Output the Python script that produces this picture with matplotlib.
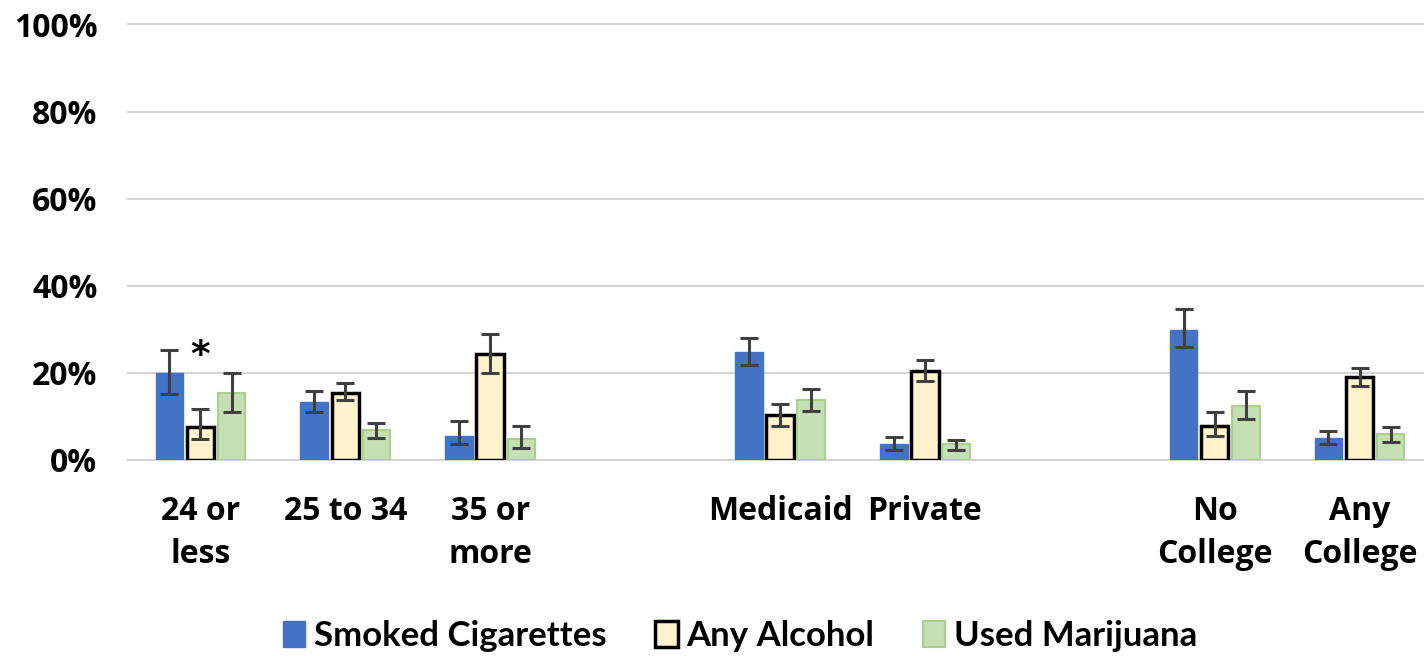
import numpy as np
import matplotlib
matplotlib.use("Agg")
import matplotlib.pyplot as plt
from matplotlib.patches import Patch

# categories (empty slots separate the three groups)
labels = ["24 or\nless", "25 to 34", "35 or\nmore", "", "Medicaid", "Private", "", "No\nCollege", "Any\nCollege"]
slots = [0, 1, 2, 4, 5, 7, 8]

cig = [19.9, 13.3, 5.4, 24.8, 3.7, 29.9, 5.1]
cig_lo = [15.2, 11.1, 3.7, 21.7, 2.4, 25.9, 3.7]
cig_hi = [25.2, 15.8, 8.9, 28.1, 5.2, 34.6, 6.6]

alc = [7.5, 15.4, 24.4, 10.4, 20.4, 7.9, 19.0]
alc_lo = [4.9, 13.7, 20.0, 7.9, 18.1, 5.6, 17.1]
alc_hi = [11.6, 17.7, 29.0, 12.9, 23.0, 11.1, 21.1]

mar = [15.4, 6.8, 4.9, 13.7, 3.6, 12.3, 5.9]
mar_lo = [11.1, 5.1, 2.8, 11.2, 2.3, 9.3, 4.1]
mar_hi = [20.0, 8.5, 7.9, 16.2, 4.7, 15.8, 7.5]

series = ["Smoked Cigarettes", "Any Alcohol", "Used Marijuana"]

fig = plt.figure(figsize=(14.24, 6.56), dpi=100)
# axes runs slightly past the right edge, as in the original
ax = fig.add_axes([128 / 1424, 196 / 656, 1304 / 1424, 435.5 / 656])

x = np.array(slots, dtype=float)
w = 0.19
step = 0.215

styles = [
    dict(color="#4472C4", edgecolor="#4472C4", linewidth=1),
    dict(color="#FFF2CC", edgecolor="black", linewidth=2.5),
    dict(color="#C5E0B4", edgecolor="#A9D18E", linewidth=1.5),
]
data = [(cig, cig_lo, cig_hi), (alc, alc_lo, alc_hi), (mar, mar_lo, mar_hi)]

for i, ((v, lo, hi), st) in enumerate(zip(data, styles)):
    v = np.array(v); lo = np.array(lo); hi = np.array(hi)
    pos = x + (i - 1) * step
    ax.bar(pos, v, width=w, zorder=3, **st)
    ax.errorbar(pos, v, yerr=[v - lo, hi - v], fmt="none", ecolor="#404040",
                elinewidth=2.2, capsize=6.5, capthick=2.2, zorder=4)

# significance marker
ax.text(x[0], 23.8, "*", ha="center", va="center", fontsize=27, fontweight="bold")

ax.set_xlim(-0.5, 8.5)
ax.set_ylim(0, 100)
ax.set_yticks(np.arange(0, 101, 20))
ax.set_yticklabels([f"{t}%" for t in range(0, 101, 20)])
ax.set_xticks(range(9))
ax.set_xticklabels(labels)
ax.yaxis.grid(True, color="#D4D4D4", linewidth=1.5)
for gl in ax.get_ygridlines():
    gl.set_clip_on(False)
ax.set_axisbelow(True)
for s in ax.spines.values():
    s.set_visible(False)
ax.tick_params(axis="both", length=0)
ax.tick_params(axis="y", pad=22)
ax.tick_params(axis="x", pad=25)
for t in ax.get_xticklabels() + ax.get_yticklabels():
    t.set_fontfamily("Open Sans")
    t.set_fontweight("bold")
    t.set_fontsize(23)
    t.set_linespacing(1.4)

handles = [Patch(facecolor=st["color"], edgecolor=st["edgecolor"], linewidth=st["linewidth"]) for st in styles]
fig.legend(handles, series, loc="center", bbox_to_anchor=(740 / 1424, 1 - 636 / 656),
           ncol=3, frameon=False, handlelength=0.65, handleheight=0.8, handletextpad=0.25,
           columnspacing=1.4, prop={"family": "Lato", "weight": "bold", "size": 25})

fig.savefig("out.png", dpi=100)
